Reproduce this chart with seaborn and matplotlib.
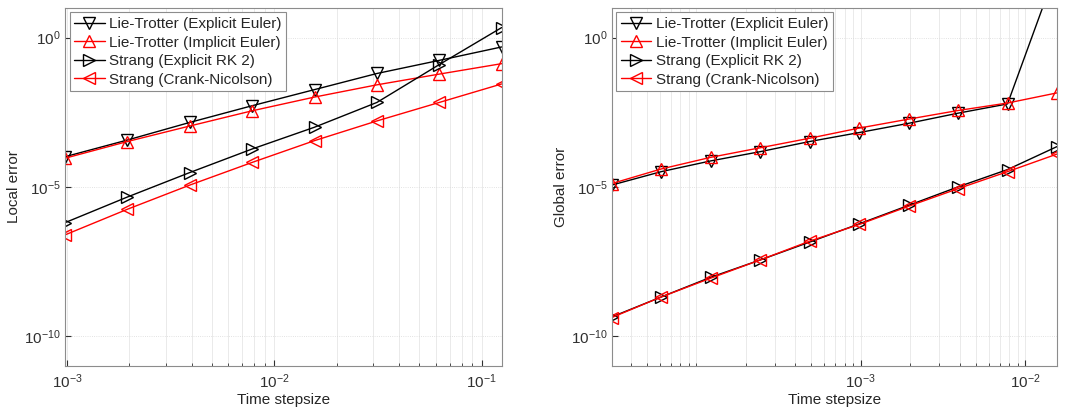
import numpy as np
import pandas as pd
import matplotlib
matplotlib.use("Agg")
import matplotlib.pyplot as plt
import seaborn as sns
from matplotlib.ticker import LogLocator, NullFormatter, NullLocator

# Pas de temps
dt_local = 0.125 / 2.0 ** np.arange(7, -1, -1)
dt_global = 0.015625 / 2.0 ** np.arange(9, -1, -1)

# Erreurs locales (log10)
local_lt_explicit = [-3.99, -3.43, -2.84, -2.28, -1.74, -1.20, -0.76, -0.31]
local_lt_implicit = [-4.04, -3.48, -2.96, -2.45, -1.99, -1.58, -1.22, -0.87]
local_st_rk2 = [-6.20, -5.34, -4.52, -3.73, -3.00, -2.17, -0.90, 0.34]
local_st_cn = [-6.61, -5.75, -4.94, -4.18, -3.45, -2.79, -2.17, -1.55]

# Erreurs globales (log10)
global_lt_explicit = [-4.94, -4.49, -4.13, -3.82, -3.48, -3.18, -2.87, -2.53, -2.22, 2.33]
global_lt_implicit = [-4.89, -4.40, -4.01, -3.69, -3.37, -3.03, -2.73, -2.44, -2.19, -1.85]
global_st_rk2 = [-9.36, -8.69, -8.03, -7.45, -6.85, -6.24, -5.62, -5.00, -4.42, -3.65]
global_st_cn = [-9.38, -8.69, -8.06, -7.45, -6.82, -6.26, -5.65, -5.06, -4.49, -3.90]

labels = ["Lie-Trotter (Explicit Euler)", "Lie-Trotter (Implicit Euler)",
          "Strang (Explicit RK 2)", "Strang (Crank-Nicolson)"]
colors = ["black", "red", "black", "red"]
markers = ["v", "^", ">", "<"]

sns.set_style("ticks")
plt.rcParams['font.family'] = ['Liberation Sans', 'DejaVu Sans']
plt.rcParams['mathtext.fontset'] = 'custom'
plt.rcParams['mathtext.rm'] = 'Liberation Sans'
plt.rcParams['mathtext.it'] = 'Liberation Sans'


def draw_panel(ax, dt, series, ylabel, xlim, xticks):
    for lab, vals, col, mk in zip(labels, series, colors, markers):
        df = pd.DataFrame({"dt": dt, "err": 10.0 ** np.array(vals)})
        sns.lineplot(data=df, x="dt", y="err", ax=ax, color=col, marker=mk,
                     markersize=9, markerfacecolor="none", markeredgecolor=col,
                     markeredgewidth=1.0, linewidth=1.0, label=lab)
    ax.set_xscale("log")
    ax.set_yscale("log")
    ax.set_xlim(*xlim)
    ax.set_ylim(1e-11, 1e1)
    ax.set_xticks(xticks)
    ax.set_yticks([1e-10, 1e-5, 1e0])
    ax.yaxis.set_minor_locator(NullLocator())
    ax.xaxis.set_minor_locator(LogLocator(base=10, subs=np.arange(1, 10), numticks=20))
    ax.xaxis.set_minor_formatter(NullFormatter())
    ax.grid(which="major", axis="y", color="#d9d9d9", linewidth=0.6, linestyle=":")
    ax.grid(which="both", axis="x", color="#e6e6e6", linewidth=0.6, linestyle="-")
    ax.tick_params(which="both", direction="in", colors="#303030", labelsize=11)
    ax.tick_params(which="major", length=4)
    ax.tick_params(axis="x", which="major", pad=5)
    ax.tick_params(axis="y", which="major", pad=3)
    ax.tick_params(which="minor", length=2)
    for s in ax.spines.values():
        s.set_color("#8c8c8c")
        s.set_linewidth(0.8)
    ax.set_xlabel("Time stepsize", fontsize=11, labelpad=1)
    ax.set_ylabel(ylabel, fontsize=11, labelpad=2)
    leg = ax.legend(loc="upper left", fontsize=11, fancybox=False, framealpha=1,
                    edgecolor="#8c8c8c", handlelength=2.0, handletextpad=0.3,
                    borderpad=0.3, labelspacing=0.3, borderaxespad=0.3)
    leg.get_frame().set_linewidth(0.8)


fig = plt.figure(figsize=(10.72, 4.13), dpi=100)
ax1 = fig.add_axes([0.0606, 0.114, 0.4074, 0.867])
ax2 = fig.add_axes([0.5706, 0.114, 0.4154, 0.867])

draw_panel(ax1, dt_local,
           [local_lt_explicit, local_lt_implicit, local_st_rk2, local_st_cn],
           "Local error", (dt_local[0], dt_local[-1]), [1e-3, 1e-2, 1e-1])
draw_panel(ax2, dt_global,
           [global_lt_explicit, global_lt_implicit, global_st_rk2, global_st_cn],
           "Global error", (dt_global[0], dt_global[-1]), [1e-3, 1e-2])

fig.savefig("out.png", dpi=100)
plt.close(fig)
